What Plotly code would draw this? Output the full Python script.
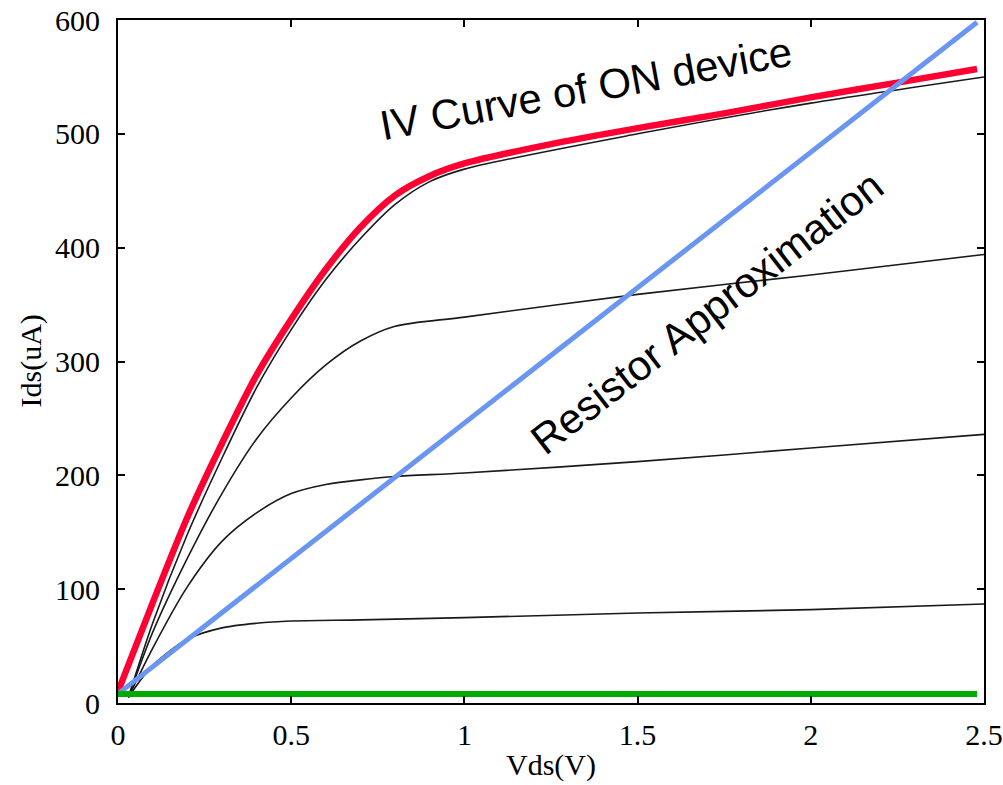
import plotly.graph_objects as go

# ---- data ----
v_on = [0, 0.1, 0.2, 0.3, 0.4, 0.5, 0.6, 0.7, 0.8, 0.9, 1.0, 1.25, 1.5, 1.75, 2.0, 2.25, 2.48]
i_on = [10, 88, 163, 228, 288, 337, 381, 418, 446, 463, 474, 491, 505, 518, 532, 545, 557]

v_g1 = [0.03, 0.1, 0.2, 0.3, 0.4, 0.5, 0.6, 0.7, 0.8, 0.9, 1.0, 1.5, 2.0, 2.5]
i_g1 = [5, 70, 148, 215, 277, 328, 372, 408, 438, 458, 469, 500, 527, 550]

v_g2 = [0.03, 0.1, 0.2, 0.3, 0.4, 0.5, 0.6, 0.7, 0.8, 1.0, 1.5, 2.0, 2.5]
i_g2 = [5, 62, 127, 184, 232, 268, 297, 318, 331, 339, 359, 376, 394]

v_g3 = [0.03, 0.1, 0.2, 0.3, 0.4, 0.5, 0.6, 0.7, 0.8, 1.0, 1.5, 2.0, 2.5]
i_g3 = [5, 48, 102, 142, 167, 184, 192, 196, 199, 202, 212, 224, 236]

v_g4 = [0.03, 0.1, 0.2, 0.3, 0.4, 0.5, 0.7, 1.0, 1.5, 2.0, 2.5]
i_g4 = [5, 33, 56, 66, 70, 72, 73, 75, 79, 82, 87]

v_res = [0, 2.48]
i_res = [8, 598]

v_off = [0, 2.48]
i_off = [8, 8]

x_ticks = [0, 0.5, 1, 1.5, 2, 2.5]
x_ticklabels = ["0", "0.5", "1", "1.5", "2", "2.5"]
y_ticks = [0, 100, 200, 300, 400, 500, 600]
y_ticklabels = ["0", "100", "200", "300", "400", "500", "600"]

x_title = "Vds(V)"
y_title = "Ids(uA)"
label_on = "IV Curve of ON device"
label_res = "Resistor Approximation"

fig = go.Figure()

for vx, iy in [(v_g1, i_g1), (v_g2, i_g2), (v_g3, i_g3), (v_g4, i_g4)]:
    fig.add_trace(go.Scatter(x=vx, y=iy, mode="lines",
                             line=dict(color="#1a1a1a", width=1.6, shape="spline", smoothing=0.8),
                             showlegend=False, hoverinfo="skip"))

fig.add_trace(go.Scatter(x=v_on, y=i_on, mode="lines",
                         line=dict(color="#ff0033", width=6.5, shape="spline", smoothing=0.8),
                         showlegend=False))
fig.add_trace(go.Scatter(x=v_res, y=i_res, mode="lines",
                         line=dict(color="#6a96f2", width=5),
                         showlegend=False))
fig.add_trace(go.Scatter(x=v_off, y=i_off, mode="lines",
                         line=dict(color="#00aa00", width=6),
                         showlegend=False))

serif = "Liberation Serif, DejaVu Serif, serif"
sans = "Liberation Sans, Arial, sans-serif"

axis_common = dict(
    showline=True, linecolor="black", linewidth=2, mirror="ticks",
    ticks="inside", ticklen=7, tickwidth=2, tickcolor="black",
    showgrid=False, zeroline=False, automargin=False,
    tickfont=dict(family=serif, size=30, color="black"),
)

fig.update_xaxes(range=[0, 2.5], tickvals=x_ticks, ticktext=x_ticklabels,
                 ticklabelstandoff=4, **axis_common)
fig.update_yaxes(range=[0, 600], tickvals=y_ticks, ticktext=y_ticklabels,
                 ticklabelstandoff=10, **axis_common)

fig.add_annotation(text=x_title, xref="paper", yref="paper", x=0.5, y=0,
                   yshift=-62, showarrow=False, xanchor="center", yanchor="middle",
                   font=dict(family=serif, size=30, color="black"))
fig.add_annotation(text=y_title, xref="paper", yref="paper", x=0, y=0.5,
                   xshift=-88, showarrow=False, xanchor="center", yanchor="middle",
                   textangle=-90, font=dict(family=serif, size=30, color="black"))

fig.add_annotation(text=label_on, x=1.35, y=540, xref="x", yref="y",
                   showarrow=False, textangle=-10.4, xanchor="center", yanchor="middle",
                   font=dict(family=sans, size=42, color="black"))
fig.add_annotation(text=label_res, x=1.70, y=343, xref="x", yref="y",
                   showarrow=False, textangle=-37.8, xanchor="center", yanchor="middle",
                   font=dict(family=sans, size=42, color="black"))

fig.update_layout(
    width=1003, height=785,
    margin=dict(l=118, r=19, t=20, b=82, autoexpand=False),
    paper_bgcolor="white", plot_bgcolor="white",
    showlegend=False,
)

fig.write_html(
    "out.html",
    config={"displayModeBar": False},
    post_script="document.body.style.margin='0';document.body.style.overflow='hidden';"
                "document.documentElement.style.overflow='hidden';",
)
